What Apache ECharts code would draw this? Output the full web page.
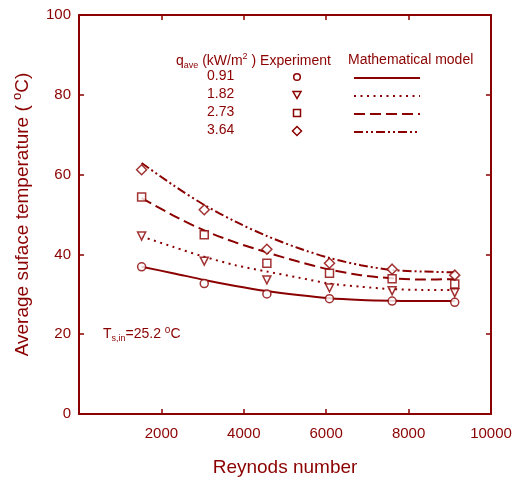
<!DOCTYPE html>
<html>
<head>
<meta charset="utf-8">
<script src="https://cdn.jsdelivr.net/npm/echarts@6/dist/echarts.min.js"></script>
<style>
  html, body { margin: 0; padding: 0; background: #fff; }
  #main { width: 523px; height: 483px; }
</style>
</head>
<body>
<div id="main"></div>
<script>
// Reynolds numbers of the measurements
var reynolds = [1520, 3040, 4560, 6080, 7600, 9120];
// Reynolds numbers where the model curves were read
var modelRe = [1520, 2280, 3040, 3800, 4560, 5320, 6080, 6840, 7600, 8360, 9120];
var fluxLabels = ['0.91', '1.82', '2.73', '3.64'];

// experiment (markers)
var exp091 = [36.9, 32.7, 30.1, 28.9, 28.3, 28.0];
var exp182 = [44.6, 38.3, 33.6, 31.6, 30.9, 30.4];
var exp273 = [54.4, 44.9, 37.8, 35.3, 33.9, 32.6];
var exp364 = [61.2, 51.2, 41.3, 37.8, 36.3, 34.8];

// mathematical model (lines)
var mod091 = [36.9, 35.3, 33.6, 32.1, 30.8, 29.8, 29.0, 28.6, 28.4, 28.3, 28.3];
var mod182 = [44.5, 41.9, 39.4, 37.3, 35.7, 34.2, 32.7, 31.9, 31.3, 31.1, 31.1];
var mod273 = [54.1, 49.8, 46.0, 43.0, 40.5, 38.2, 36.2, 34.8, 34.0, 33.7, 33.8];
var mod364 = [62.9, 57.4, 52.4, 48.2, 44.6, 41.6, 39.1, 37.3, 36.1, 35.7, 35.5];

var xTicks = [0, 2000, 4000, 6000, 8000, 10000];
var yTicks = [0, 20, 40, 60, 80, 100];

var RED = '#8b0000';
var FONT = 'Liberation Sans, Arial, sans-serif';

function pairs(xs, ys) {
    return xs.map(function (x, i) { return [x, ys[i]]; });
}

var triDown = 'path://M0,0 L10,0 L5,9 Z';
var symbols = ['circle', triDown, 'rect', 'diamond'];
var dashes = ['solid', [2, 4.5], [11, 5], [9, 3, 2, 3, 2, 3]];
var expData = [exp091, exp182, exp273, exp364];
var modData = [mod091, mod182, mod273, mod364];

var series = [];
modData.forEach(function (d, i) {
    series.push({
        type: 'line',
        data: pairs(modelRe, d),
        smooth: 0.3,
        showSymbol: false,
        lineStyle: { color: RED, width: 2, type: dashes[i] },
        z: 2
    });
});
expData.forEach(function (d, i) {
    series.push({
        type: 'scatter',
        data: pairs(reynolds, d),
        symbol: symbols[i],
        symbolSize: i == 3 ? 10 : 8,
        itemStyle: { color: '#fff', borderColor: RED, borderWidth: 1.5 },
        z: 3
    });
});

// legend drawn by hand, like the original figure
var graphics = [];
graphics.push({
    type: 'text', left: 176, top: 52,
    style: {
        text: '{n|q}{s|ave}{n| (kW/m}{p|2}{n| ) Experiment}',
        rich: {
            n: { fontSize: 14, fontFamily: FONT, fill: RED, lineHeight: 18, verticalAlign: 'middle' },
            s: { fontSize: 9, fontFamily: FONT, fill: RED, lineHeight: 18, verticalAlign: 'bottom', padding: [8, 0, 0, 0] },
            p: { fontSize: 9, fontFamily: FONT, fill: RED, lineHeight: 18, verticalAlign: 'top', padding: [0, 0, 8, 0] }
        }
    }
});
graphics.push({
    type: 'text', left: 348, top: 53,
    style: { text: 'Mathematical model', fontSize: 14, fontFamily: FONT, fill: RED }
});
var rowY = [77, 95, 113, 131];
var legendSymbols = [
    { type: 'circle', shape: { cx: 297, cy: 0, r: 3.3 } },
    { type: 'polygon', shape: { points: [[293, -3.5], [301, -3.5], [297, 3.5]] } },
    { type: 'rect', shape: { x: 293.5, y: -3.5, width: 7, height: 7 } },
    { type: 'polygon', shape: { points: [[297, -4.5], [301.5, 0], [297, 4.5], [292.5, 0]] } }
];
fluxLabels.forEach(function (lab, i) {
    graphics.push({
        type: 'text', left: 207, top: rowY[i] - 8,
        style: { text: lab, fontSize: 14, fontFamily: FONT, fill: RED }
    });
    var sym = legendSymbols[i];
    var shape = JSON.parse(JSON.stringify(sym.shape));
    if (shape.cy !== undefined) shape.cy = rowY[i];
    if (shape.y !== undefined) shape.y += rowY[i];
    if (shape.points) shape.points = shape.points.map(function (p) { return [p[0], p[1] + rowY[i]]; });
    graphics.push({
        type: sym.type, shape: shape,
        style: { fill: '#fff', stroke: RED, lineWidth: 1.5 }
    });
    graphics.push({
        type: 'line',
        shape: { x1: 354, y1: rowY[i] + 1, x2: 420, y2: rowY[i] + 1 },
        style: { stroke: RED, lineWidth: 2, lineDash: dashes[i] === 'solid' ? null : dashes[i] }
    });
});
graphics.push({
    type: 'text', left: 103, top: 325,
    style: {
        text: '{n|T}{s|s,in}{n|=25.2 }{p|o}{n|C}',
        rich: {
            n: { fontSize: 14, fontFamily: FONT, fill: RED, lineHeight: 18, verticalAlign: 'middle' },
            s: { fontSize: 9, fontFamily: FONT, fill: RED, lineHeight: 18, verticalAlign: 'bottom', padding: [8, 0, 0, 0] },
            p: { fontSize: 10, fontFamily: FONT, fill: RED, lineHeight: 18, verticalAlign: 'top', padding: [0, 0, 8, 0] }
        }
    }
});

var axisCommon = {
    axisLine: { show: true, onZero: false, lineStyle: { color: RED, width: 2 } },
    axisTick: { show: true, inside: true, length: 5, lineStyle: { color: RED, width: 1.5 } },
    splitLine: { show: false }
};

var myChart = echarts.init(document.getElementById('main'));
myChart.setOption({
    animation: false,
    backgroundColor: '#fff',
    grid: { left: 79, right: 32, top: 15, bottom: 69 },
    xAxis: [
        Object.assign({
            type: 'value', min: xTicks[0], max: xTicks[xTicks.length - 1], interval: 2000,
            name: 'Reynods number', nameLocation: 'middle', nameGap: 44,
            nameTextStyle: { color: RED, fontSize: 19, fontFamily: FONT },
            axisLabel: {
                color: RED, fontSize: 15, fontFamily: FONT, margin: 12,
                formatter: function (v) { return v === 0 ? '' : v; }
            }
        }, axisCommon),
        Object.assign({
            type: 'value', position: 'top', min: xTicks[0], max: xTicks[xTicks.length - 1], interval: 2000,
            axisLabel: { show: false }
        }, axisCommon)
    ],
    yAxis: [
        Object.assign({
            type: 'value', min: yTicks[0], max: yTicks[yTicks.length - 1], interval: 20,
            name: '{n|Average suface temperature ( }{p|o}{n|C)}', nameLocation: 'middle', nameGap: 44,
            nameTextStyle: {
                rich: {
                    n: { color: RED, fontSize: 19, fontFamily: FONT, lineHeight: 24, verticalAlign: 'middle' },
                    p: { color: RED, fontSize: 13, fontFamily: FONT, lineHeight: 24, verticalAlign: 'top', padding: [0, 0, 10, 0] }
                }
            },
            axisLabel: { color: RED, fontSize: 15, fontFamily: FONT, margin: 8 }
        }, axisCommon),
        Object.assign({
            type: 'value', position: 'right', min: yTicks[0], max: yTicks[yTicks.length - 1], interval: 20,
            axisLabel: { show: false }
        }, axisCommon)
    ],
    graphic: graphics,
    series: series
});
</script>
</body>
</html>
